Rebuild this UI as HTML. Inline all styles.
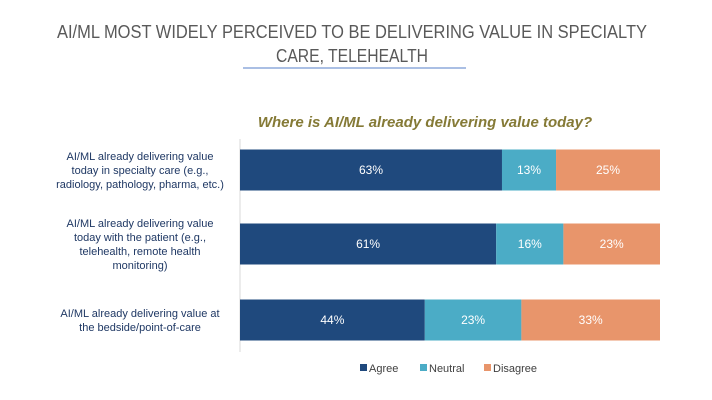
<!DOCTYPE html>
<html><head><meta charset="utf-8"><style>
body{margin:0;width:712px;height:400px;background:#fff;overflow:hidden;font-family:"Liberation Sans",sans-serif}
svg{display:block}
</style></head><body>
<svg width="712" height="400">
<text x="352" y="38" text-anchor="middle" font-size="18" fill="#595959" textLength="590" lengthAdjust="spacingAndGlyphs">AI/ML MOST WIDELY PERCEIVED TO BE DELIVERING VALUE IN SPECIALTY</text>
<text x="352" y="62" text-anchor="middle" font-size="18" fill="#595959" textLength="152" lengthAdjust="spacingAndGlyphs">CARE, TELEHEALTH</text>
<line x1="243" y1="68" x2="466" y2="68" stroke="#8eaadb" stroke-width="1.5"/>
<text x="425" y="127" text-anchor="middle" font-size="15" font-weight="bold" font-style="italic" fill="#857a36">Where is AI/ML already delivering value today?</text>
<line x1="240" y1="139" x2="240" y2="352" stroke="#d9d9d9"/>
<g id="bars"></g>
<g id="legend"></g>
</svg>
<script>
const categories=[["AI/ML already delivering value","today in specialty care (e.g.,","radiology, pathology, pharma, etc.)"],["AI/ML already delivering value","today with the patient (e.g.,","telehealth, remote health","monitoring)"],["AI/ML already delivering value at","the bedside/point-of-care"]];
const agree=[63,61,44];
const neutral=[13,16,23];
const disagree=[25,23,33];
const seriesNames=["Agree","Neutral","Disagree"];
const colors=["#1f497d","#4bacc6","#e8956b"];
const ns="http://www.w3.org/2000/svg";
const g=document.getElementById('bars');
const x0=240,W=420,centers=[170,244,320],bh=41;
const series=[agree,neutral,disagree];
function mk(t,a,p){const e=document.createElementNS(ns,t);for(const k in a)e.setAttribute(k,a[k]);p.appendChild(e);return e;}
categories.forEach((c,i)=>{
 const tot=agree[i]+neutral[i]+disagree[i];
 let x=x0;const y=centers[i]-bh/2;
 series.forEach((s,j)=>{
  const w=s[i]/tot*W;
  const r=mk('rect',{x:x,y:y,width:w,height:bh,fill:colors[j]},g);
  
  
  const t=mk('text',{x:x+w/2,y:centers[i]+4,'text-anchor':'middle','font-size':12,fill:'#fff'},g);
  t.textContent=s[i]+'%';
  
  
  x+=w;
 });
 const n=c.length,lh=14;
 c.forEach((line,k)=>{
  const t=mk('text',{x:140,y:centers[i]-(n-1)*lh/2+k*lh+4,'text-anchor':'middle','font-size':11,fill:'#1f3864'},g);
  t.textContent=line;
  
  
 });
});
const lg=document.getElementById('legend');
const lx=[360,420,484];
seriesNames.forEach((s,j)=>{
 const r=mk('rect',{x:lx[j],y:364,width:7,height:7,fill:colors[j]},lg);
 
 
 const t=mk('text',{x:lx[j]+9,y:372,'font-size':11,fill:'#404040'},lg);
 t.textContent=s;
 
 
});
</script>
</body></html>
